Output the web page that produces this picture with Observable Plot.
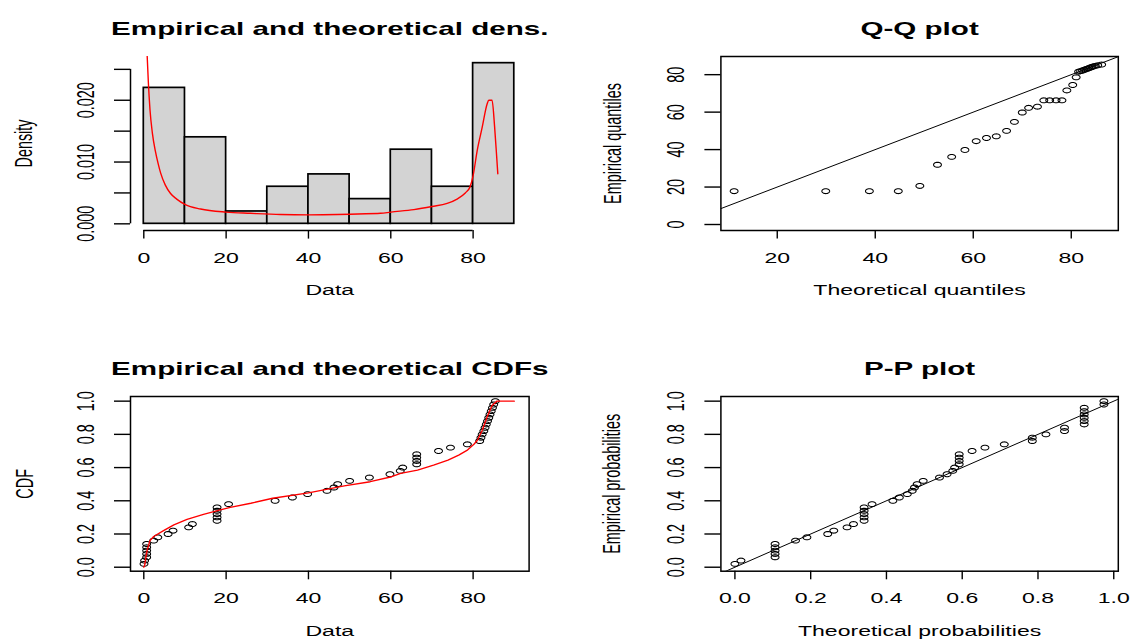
<!DOCTYPE html>
<html><head><meta charset="utf-8">
<script src="https://cdn.jsdelivr.net/npm/d3@7"></script>
<script src="https://cdn.jsdelivr.net/npm/@observablehq/plot@0.6"></script>
<style>
html,body{margin:0;padding:0;background:#fff;}
#wrap{position:relative;width:1131px;height:644px;overflow:hidden;background:#fff;}
#wrap svg{position:absolute;}
</style></head><body><div id="wrap"></div>
<script>
// ---------------- data ----------------
const binEdges = [0, 10, 20, 30, 40, 50, 60, 70, 80, 90];
const binDensity = [0.022, 0.014, 0.002, 0.006, 0.008, 0.004, 0.012, 0.006, 0.026];

const densCurveX = [0.8, 1.1, 1.5, 2.1, 2.8, 3.5, 4.1, 5.2, 6.5, 8, 10.1, 13.8, 20, 25.9, 33.2, 40, 47, 52, 57.5, 60, 65.6, 70, 73.7, 76.1, 78.1, 79.2, 80, 81, 82.2, 83.4, 83.8, 84.6, 85.2, 85.7, 86];
const densCurveY = [0.0275, 0.023, 0.0185, 0.0146, 0.0118, 0.0097, 0.0082, 0.0063, 0.0049, 0.0040, 0.0031, 0.0024, 0.0019, 0.0017, 0.0015, 0.00145, 0.0015, 0.0016, 0.0017, 0.0019, 0.0023, 0.0028, 0.0033, 0.0040, 0.0050, 0.0059, 0.0078, 0.0119, 0.0156, 0.0194, 0.0200, 0.0200, 0.0159, 0.0111, 0.0081];

const sortedData = [0.05, 0.2, 0.7, 0.7, 0.7, 0.7, 0.7, 2.4, 3.4, 5.9, 7.1, 10.9, 11.8, 17.8, 17.8, 17.8, 17.8, 17.8, 20.6, 31.9, 36.1, 39.8, 44.5, 46.2, 47.1, 50.0, 54.8, 59.8, 62.3, 62.9, 66.3, 66.3, 66.3, 66.3, 71.6, 74.5, 78.6, 81.6, 81.9, 82.2, 82.6, 82.9, 83.2, 83.5, 83.8, 84.1, 84.4, 84.7, 85.0, 85.4];
const empiricalProb = [0.02, 0.04, 0.06, 0.08, 0.10, 0.12, 0.14, 0.16, 0.18, 0.20, 0.22, 0.24, 0.26, 0.28, 0.30, 0.32, 0.34, 0.36, 0.38, 0.40, 0.42, 0.44, 0.46, 0.48, 0.50, 0.52, 0.54, 0.56, 0.58, 0.60, 0.62, 0.64, 0.66, 0.68, 0.70, 0.72, 0.74, 0.76, 0.78, 0.80, 0.82, 0.84, 0.86, 0.88, 0.90, 0.92, 0.94, 0.96, 0.98, 1.00];

const cdfCurveX = [0, 0.2, 0.5, 0.8, 1.5, 2.4, 4.8, 7.3, 10.5, 14.5, 18.6, 21, 26, 31.3, 40, 48.7, 55, 60.2, 62.4, 66.5, 70.4, 73.9, 76.5, 78.5, 80.2, 81, 82.2, 83.4, 84.6, 85.8, 90];
const cdfCurveY = [0, 0.01, 0.06, 0.10, 0.16, 0.185, 0.22, 0.255, 0.288, 0.318, 0.345, 0.36, 0.385, 0.415, 0.448, 0.49, 0.515, 0.545, 0.565, 0.585, 0.615, 0.645, 0.675, 0.703, 0.74, 0.763, 0.823, 0.904, 0.974, 1.0, 1.0];

// theoretical quantiles for the visible Q-Q points (sortedData from index 14 on)
const qqFirstVisible = 14;
const qqTheoretical = [11.2, 29.9, 38.8, 44.7, 49.1, 52.7, 55.6, 58.3, 60.6, 62.7, 64.7, 66.8, 68.4, 70.0, 71.3, 73.1, 74.4, 75.6, 76.9, 78.1, 79.1, 80.3, 81.0, 81.5, 81.9, 82.3, 82.6, 83.0, 83.3, 83.6, 83.9, 84.2, 84.5, 84.9, 85.4, 86.2];

const ppTheoretical = [0.0, 0.016, 0.106, 0.106, 0.106, 0.106, 0.106, 0.16, 0.19, 0.245, 0.261, 0.296, 0.313, 0.341, 0.341, 0.341, 0.341, 0.341, 0.362, 0.417, 0.434, 0.455, 0.468, 0.474, 0.481, 0.497, 0.54, 0.56, 0.575, 0.58, 0.592, 0.592, 0.592, 0.592, 0.626, 0.66, 0.711, 0.785, 0.785, 0.821, 0.870, 0.870, 0.922, 0.922, 0.922, 0.922, 0.922, 0.922, 0.974, 0.974];

// ticks / domains / texts
const histXTicks = [0, 20, 40, 60, 80];
const histYTicks = [0, 0.005, 0.01, 0.015, 0.02, 0.025];
const histYLabelTicks = [0, 0.01, 0.02];
const qqXTicks = [20, 40, 60, 80];
const qqYTicks = [0, 20, 40, 60, 80];
const cdfXTicks = [0, 20, 40, 60, 80];
const probTicks = [0, 0.2, 0.4, 0.6, 0.8, 1.0];

const histXDomain = [-3.23, 93.6], histYDomain = [-0.00108, 0.02708];
const qqXDomain = [8.5, 89.6], qqYDomain = [-3.2, 89.7];
const cdfXDomain = [-3.23, 93.6], probYDomain = [-0.024, 1.028];
const ppXDomain = [-0.037, 1.012];

const titles = ["Empirical and theoretical dens.", "Q-Q plot", "Empirical and theoretical CDFs", "P-P plot"];
const xLabels = ["Data", "Theoretical quantiles", "Data", "Theoretical probabilities"];
const yLabels = ["Density", "Empirical quantiles", "CDF", "Empirical probabilities"];

// ---------------- drawing ----------------
const FONT = "'Liberation Sans', Arial, Helvetica, sans-serif";
const SX = 1.6;            // horizontal stretch of the original raster
const SX_TITLE = 1.66;
const FS = 14.4;
const wrap = document.getElementById("wrap");

const ellipse = {
  draw(ctx, size) {
    const r = Math.sqrt(size / Math.PI), rx = r * SX, ry = r;
    for (let k = 0; k < 28; k++) {
      const a = 2 * Math.PI * k / 28, px = rx * Math.cos(a), py = ry * Math.sin(a);
      k ? ctx.lineTo(px, py) : ctx.moveTo(px, py);
    }
    ctx.closePath();
  }
};

function stretchTexts(svg) {
  svg.querySelectorAll("text").forEach(el => {
    const sx = el.closest("[data-title]") ? SX_TITLE : SX;
    const t = el.getAttribute("transform");
    const rot = t && /rotate\(\s*[-+]?90\s*\)/.test(t);
    if (t) el.setAttribute("transform", t + (rot ? ` scale(1,${sx})` : ` scale(${sx},1)`));
    else {
      const x = parseFloat(el.getAttribute("x")) || 0, y = parseFloat(el.getAttribute("y")) || 0;
      el.setAttribute("transform", `translate(${x},${y}) scale(${sx},1) translate(${-x},${-y})`);
    }
  });
}

function xAxis(ticks, fmt) {
  return Plot.axisX({ticks, anchor: "bottom", tickSize: 8.6, tickPadding: 13.4, tickFormat: fmt,
    fontSize: FS, strokeWidth: 1.4, label: null});
}
function yAxis(ticks, labelTicks, fmt) {
  return [
    Plot.axisY({ticks, anchor: "left", tickSize: 16, tickFormat: () => "", strokeWidth: 1.4, label: null}),
    Plot.axisY({ticks: labelTicks, anchor: "left", tickSize: 0, tickPadding: 37, tickRotate: -90,
      tickFormat: fmt, fontSize: FS, label: null})
  ];
}
function texts(i, ylabDx) {
  return [
    Plot.text([titles[i]], {text: d => d, frameAnchor: "top", textAnchor: "middle", dy: -34.5, fontSize: 18.5,
      fontWeight: "bold", ariaLabel: "title"}),
    Plot.text([xLabels[i]], {text: d => d, frameAnchor: "bottom", textAnchor: "middle", dy: 64.6, fontSize: FS}),
    Plot.text([yLabels[i]], {text: d => d, frameAnchor: "left", textAnchor: "middle", dx: ylabDx, rotate: -90, fontSize: FS})
  ];
}
function panel({left, top, width, margins, xDomain, yDomain, marks}) {
  const svg = Plot.plot({
    width, height: 322,
    marginTop: margins[0], marginRight: margins[1], marginBottom: margins[2], marginLeft: margins[3],
    x: {domain: xDomain}, y: {domain: yDomain},
    style: {fontFamily: FONT, fontSize: FS + "px", color: "black", background: "white"},
    marks
  });
  svg.style.position = "absolute";
  svg.style.left = left + "px";
  svg.style.top = top + "px";
  wrap.appendChild(svg);
  svg.querySelectorAll('[aria-label="title"]').forEach(g => g.setAttribute("data-title", "1"));
  stretchTexts(svg);
}

const bins = binDensity.map((d, i) => ({x1: binEdges[i], x2: binEdges[i + 1], y: d}));
const densLine = densCurveX.map((x, i) => ({x, y: densCurveY[i]}));
const cdfLine = cdfCurveX.map((x, i) => ({x, y: cdfCurveY[i]}));
const cdfPts = sortedData.map((x, i) => ({x, y: empiricalProb[i]}));
const qqPts = qqTheoretical.map((x, i) => ({x, y: sortedData[qqFirstVisible + i]}));
const ppPts = ppTheoretical.map((x, i) => ({x, y: empiricalProb[i]}));
const qqDiag = qqXDomain.map(v => ({x: v, y: v}));
const ppDiag = ppXDomain.map(v => ({x: v, y: v}));

const dotOpts = {x: "x", y: "y", symbol: ellipse, r: 2.45, stroke: "black", fill: "none", strokeWidth: 1.05, clip: true};
const fmt3 = d3.format(".3f"), fmt1 = d3.format(".1f");

// 1: histogram + density
panel({left: 0, top: 0, width: 566, margins: [56, 37.4, 92, 130], xDomain: histXDomain, yDomain: histYDomain,
  marks: [
    Plot.rectY(bins, {x1: "x1", x2: "x2", y: "y", fill: "#d3d3d3", stroke: "black", strokeWidth: 1.7}),
    Plot.line(densLine, {x: "x", y: "y", stroke: "red", strokeWidth: 1.4, clip: true, curve: "monotone-x"}),
    Plot.ruleX([histXDomain[0]], {y1: histYTicks[0], y2: histYTicks[histYTicks.length - 1], strokeWidth: 1.5}),
    Plot.ruleY([histYDomain[0]], {x1: histXTicks[0], x2: histXTicks[histXTicks.length - 1], strokeWidth: 1.5}),
    xAxis(histXTicks, d => String(d)),
    ...yAxis(histYTicks, histYLabelTicks, fmt3),
    ...texts(0, -106)
  ]});

// 2: Q-Q
panel({left: 566, top: 0, width: 565, margins: [56, 13.2, 92, 154.4], xDomain: qqXDomain, yDomain: qqYDomain,
  marks: [
    Plot.line(qqDiag, {x: "x", y: "y", stroke: "black", strokeWidth: 1, clip: true}),
    Plot.dot(qqPts, dotOpts),
    Plot.frame({stroke: "black", strokeWidth: 1.5}),
    xAxis(qqXTicks, d => String(d)),
    ...yAxis(qqYTicks, qqYTicks, d => String(d)),
    ...texts(1, -107.7)
  ]});

// 3: CDF
panel({left: 0, top: 322, width: 566, margins: [74, 37.4, 73.3, 130], xDomain: cdfXDomain, yDomain: probYDomain,
  marks: [
    Plot.dot(cdfPts, dotOpts),
    Plot.line(cdfLine, {x: "x", y: "y", stroke: "red", strokeWidth: 1.4, clip: true}),
    Plot.frame({stroke: "black", strokeWidth: 1.5}),
    xAxis(cdfXTicks, d => String(d)),
    ...yAxis(probTicks, probTicks, fmt1),
    ...texts(2, -105)
  ]});

// 4: P-P
panel({left: 566, top: 322, width: 565, margins: [74, 13.2, 73.3, 154.4], xDomain: ppXDomain, yDomain: probYDomain,
  marks: [
    Plot.line(ppDiag, {x: "x", y: "y", stroke: "black", strokeWidth: 1, clip: true}),
    Plot.dot(ppPts, dotOpts),
    Plot.frame({stroke: "black", strokeWidth: 1.5}),
    xAxis(probTicks, fmt1),
    ...yAxis(probTicks, probTicks, fmt1),
    ...texts(3, -108)
  ]});
</script>
</body></html>
